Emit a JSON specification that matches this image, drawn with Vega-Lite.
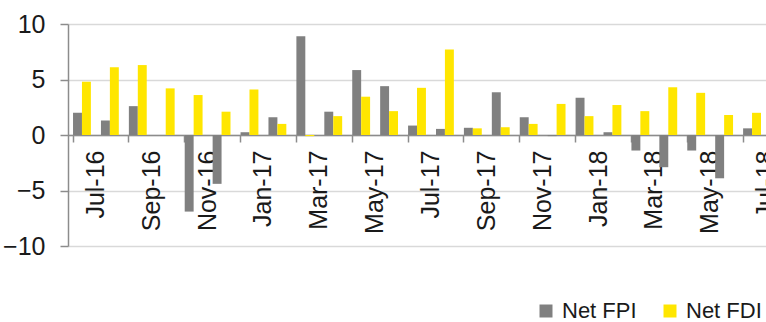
{
  "$schema": "https://vega.github.io/schema/vega-lite/v6.json",
  "width": 698,
  "height": 222,
  "autosize": {"type": "none"},
  "padding": {"left": 68, "top": 24, "right": 0, "bottom": 76},
  "config": {"view": {"stroke": null}, "font": "Liberation Sans"},
  "data": {"values": [
    {"month": "Jul-16", "series": "Net FPI", "value": 2.0}, {"month": "Jul-16", "series": "Net FDI", "value": 4.8},
    {"month": "Aug-16", "series": "Net FPI", "value": 1.3}, {"month": "Aug-16", "series": "Net FDI", "value": 6.1},
    {"month": "Sep-16", "series": "Net FPI", "value": 2.6}, {"month": "Sep-16", "series": "Net FDI", "value": 6.3},
    {"month": "Oct-16", "series": "Net FPI", "value": 0.0}, {"month": "Oct-16", "series": "Net FDI", "value": 4.2},
    {"month": "Nov-16", "series": "Net FPI", "value": -6.9}, {"month": "Nov-16", "series": "Net FDI", "value": 3.6},
    {"month": "Dec-16", "series": "Net FPI", "value": -4.4}, {"month": "Dec-16", "series": "Net FDI", "value": 2.1},
    {"month": "Jan-17", "series": "Net FPI", "value": 0.25}, {"month": "Jan-17", "series": "Net FDI", "value": 4.1},
    {"month": "Feb-17", "series": "Net FPI", "value": 1.6}, {"month": "Feb-17", "series": "Net FDI", "value": 1.0},
    {"month": "Mar-17", "series": "Net FPI", "value": 8.9}, {"month": "Mar-17", "series": "Net FDI", "value": -0.1},
    {"month": "Apr-17", "series": "Net FPI", "value": 2.1}, {"month": "Apr-17", "series": "Net FDI", "value": 1.7},
    {"month": "May-17", "series": "Net FPI", "value": 5.85}, {"month": "May-17", "series": "Net FDI", "value": 3.45},
    {"month": "Jun-17", "series": "Net FPI", "value": 4.4}, {"month": "Jun-17", "series": "Net FDI", "value": 2.15},
    {"month": "Jul-17", "series": "Net FPI", "value": 0.85}, {"month": "Jul-17", "series": "Net FDI", "value": 4.25},
    {"month": "Aug-17", "series": "Net FPI", "value": 0.55}, {"month": "Aug-17", "series": "Net FDI", "value": 7.7},
    {"month": "Sep-17", "series": "Net FPI", "value": 0.65}, {"month": "Sep-17", "series": "Net FDI", "value": 0.6},
    {"month": "Oct-17", "series": "Net FPI", "value": 3.85}, {"month": "Oct-17", "series": "Net FDI", "value": 0.7},
    {"month": "Nov-17", "series": "Net FPI", "value": 1.6}, {"month": "Nov-17", "series": "Net FDI", "value": 1.0},
    {"month": "Dec-17", "series": "Net FPI", "value": -0.1}, {"month": "Dec-17", "series": "Net FDI", "value": 2.8},
    {"month": "Jan-18", "series": "Net FPI", "value": 3.35}, {"month": "Jan-18", "series": "Net FDI", "value": 1.7},
    {"month": "Feb-18", "series": "Net FPI", "value": 0.25}, {"month": "Feb-18", "series": "Net FDI", "value": 2.7},
    {"month": "Mar-18", "series": "Net FPI", "value": -1.4}, {"month": "Mar-18", "series": "Net FDI", "value": 2.15},
    {"month": "Apr-18", "series": "Net FPI", "value": -2.9}, {"month": "Apr-18", "series": "Net FDI", "value": 4.3},
    {"month": "May-18", "series": "Net FPI", "value": -1.4}, {"month": "May-18", "series": "Net FDI", "value": 3.8},
    {"month": "Jun-18", "series": "Net FPI", "value": -3.9}, {"month": "Jun-18", "series": "Net FDI", "value": 1.8},
    {"month": "Jul-18", "series": "Net FPI", "value": 0.6}, {"month": "Jul-18", "series": "Net FDI", "value": 2.0}
  ]},
  "mark": {"type": "bar"},
  "encoding": {
    "x": {
      "field": "month", "type": "nominal", "sort": null,
      "scale": {"paddingInner": 0.36, "paddingOuter": 0.18},
      "axis": {
        "title": null,
        "values": ["Jul-16", "Sep-16", "Nov-16", "Jan-17", "Mar-17", "May-17", "Jul-17", "Sep-17", "Nov-17", "Jan-18", "Mar-18", "May-18", "Jul-18"],
        "bandPosition": 0, "labelOffset": 14, "labelAngle": -90, "labelOverlap": false, "labelBound": false,
        "offset": -111, "grid": false,
        "domainColor": "#8c8c8c", "domainWidth": 1.5, "tickColor": "#8c8c8c", "tickSize": 7, "tickWidth": 1.5,
        "labelFontSize": 25, "labelColor": "#1a1a1a", "labelPadding": 8
      }
    },
    "xOffset": {"field": "series", "sort": ["Net FPI", "Net FDI"]},
    "y": {
      "field": "value", "type": "quantitative",
      "scale": {"domain": [-10, 10], "nice": false},
      "axis": {
        "title": null, "values": [-10, -5, 0, 5, 10],
        "gridColor": "#d9d9d9", "gridWidth": 1.5,
        "domainColor": "#8c8c8c", "domainWidth": 1.5, "tickColor": "#8c8c8c", "tickSize": 8, "tickWidth": 1.5,
        "labelFontSize": 25, "labelColor": "#1a1a1a", "labelPadding": 15
      }
    },
    "color": {
      "field": "series", "type": "nominal",
      "scale": {"domain": ["Net FPI", "Net FDI"], "range": ["#808080", "#ffe600"]},
      "legend": {
        "title": null, "orient": "none", "legendX": 467, "legendY": 276, "direction": "horizontal",
        "symbolType": "square", "symbolSize": 169, "symbolStrokeWidth": 0,
        "labelFontSize": 22, "labelColor": "#1a1a1a", "labelOffset": 5, "columnPadding": 22
      }
    }
  }
}
